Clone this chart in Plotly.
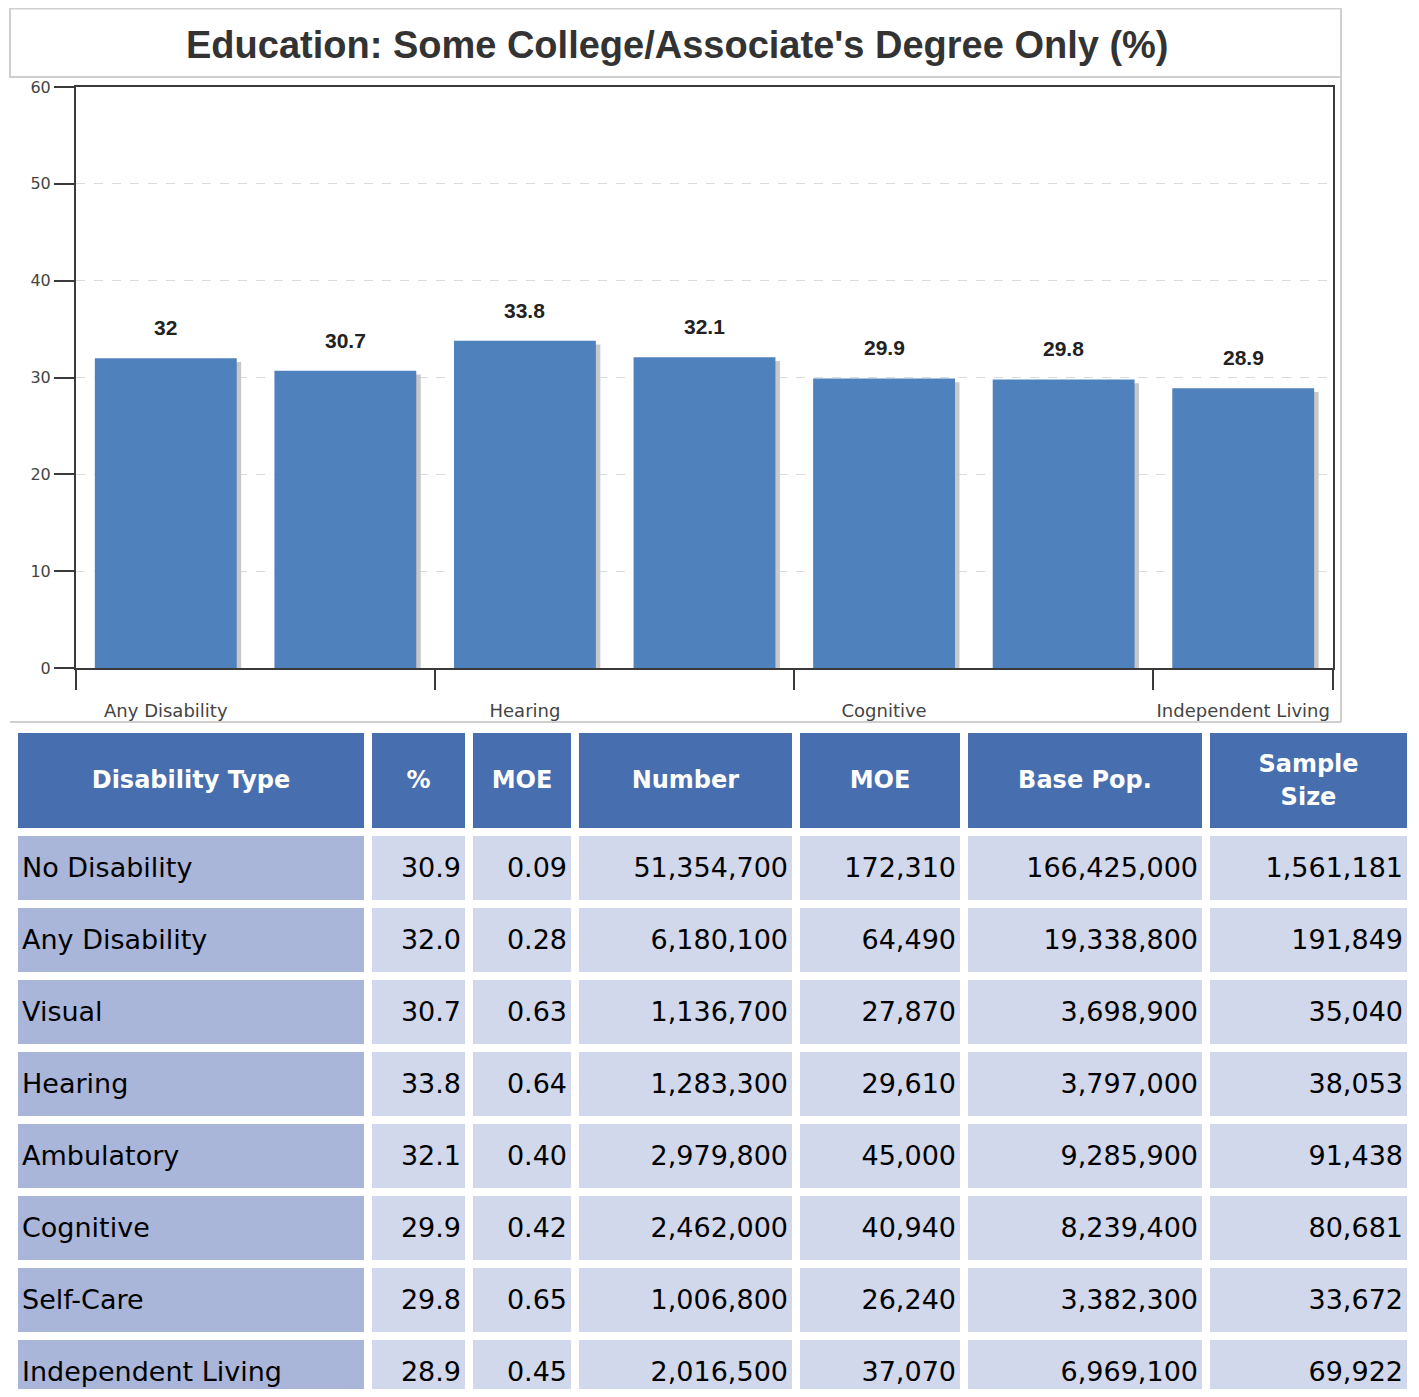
import plotly.graph_objects as go

# ---------------- data ----------------
chart_title = "Education: Some College/Associate's Degree Only (%)"
bar_categories = ["Any Disability", "Visual", "Hearing", "Ambulatory",
                  "Cognitive", "Self-Care", "Independent Living"]
bar_values = [32, 30.7, 33.8, 32.1, 29.9, 29.8, 28.9]
y_ticks = [0, 10, 20, 30, 40, 50, 60]

table_headers = ["Disability Type", "%", "MOE", "Number", "MOE", "Base Pop.", "Sample<br>Size"]
disability_types = ["No Disability", "Any Disability", "Visual", "Hearing",
                    "Ambulatory", "Cognitive", "Self-Care", "Independent Living"]
pct_values = [30.9, 32.0, 30.7, 33.8, 32.1, 29.9, 29.8, 28.9]
pct_moe = [0.09, 0.28, 0.63, 0.64, 0.40, 0.42, 0.65, 0.45]
number_values = [51354700, 6180100, 1136700, 1283300, 2979800, 2462000, 1006800, 2016500]
number_moe = [172310, 64490, 27870, 29610, 45000, 40940, 26240, 37070]
base_pop = [166425000, 19338800, 3698900, 3797000, 9285900, 8239400, 3382300, 6969100]
sample_size = [1561181, 191849, 35040, 38053, 91438, 80681, 33672, 69922]

# ---------------- layout helpers ----------------
W, H = 1403, 1381   # page body has an 8px margin
OFF = 8


def xp(px):
    return (px - OFF) / W


def yp(py):
    return 1 - (py - OFF) / H


BAR_COLOR = "#4f81bd"
SHADOW = "#c8c8c8"
AXIS = "#3a3a3a"

n = len(bar_categories)
xs = list(range(n))

fig = go.Figure()

# bar shadows
fig.add_trace(go.Bar(
    x=[i + 0.025 for i in xs], y=[v - 0.4 for v in bar_values], width=0.79,
    marker=dict(color=SHADOW, line=dict(width=0)), hoverinfo="skip", showlegend=False))
# bars
fig.add_trace(go.Bar(
    x=xs, y=bar_values, width=0.79,
    marker=dict(color=BAR_COLOR, line=dict(width=0)),
    customdata=bar_categories, hovertemplate="%{customdata}: %{y}<extra></extra>",
    showlegend=False))

# value labels
for i, v in zip(xs, bar_values):
    fig.add_annotation(x=i, y=v, xref="x", yref="y", text=f"<b>{v:g}</b>",
                       showarrow=False, yanchor="bottom", yshift=17,
                       font=dict(family="Liberation Sans", size=21, color="#222222"))

# ---------------- table ----------------
col_widths = [354, 101, 106, 221, 168, 242, 205]
first_col = "#a9b6d9"
other_col = "#d1d8eb"
HEADER_FILL = "#476eae"
TABLE_TOP = 729      # reference page px
HEADER_H = 103
ROW_H = 72
GAP = 8
CLEAR = "rgba(0,0,0,0)"
HEADER_LINE = 33     # line pitch in the two-line header

cell_text = [disability_types,
             [f"{v:.1f}" for v in pct_values],
             [f"{v:.2f}" for v in pct_moe],
             [f"{v:,}" for v in number_values],
             [f"{v:,}" for v in number_moe],
             [f"{v:,}" for v in base_pop],
             [f"{v:,}" for v in sample_size]]
aligns = ["left"] + ["right"] * 6

tx0 = xp(14)
tw = 1.0 - tx0
tot = sum(col_widths)
bounds = [tx0]
for w_ in col_widths:
    bounds.append(bounds[-1] + tw * w_ / tot)
bounds[-1] = 1.0

# background (fills only)
fig.add_trace(go.Table(
    domain=dict(x=[tx0, 1.0], y=[0, yp(TABLE_TOP)]),
    columnwidth=col_widths,
    header=dict(values=[""] * len(table_headers), fill_color=HEADER_FILL,
                line=dict(color="white", width=GAP), height=HEADER_H,
                font=dict(size=10)),
    cells=dict(values=[[""] * len(disability_types)] * len(col_widths),
               fill_color=[first_col] + [other_col] * 6,
               line=dict(color="white", width=GAP), height=ROW_H,
               font=dict(size=10)),
))

ROW_SHIFT = 17


def text_table(cols, header_texts, header_shift, with_cells=True):
    top = TABLE_TOP + header_shift
    vals = [cell_text[c] if with_cells else [""] * len(disability_types) for c in cols]
    fig.add_trace(go.Table(
        domain=dict(x=[bounds[cols[0]], bounds[cols[-1] + 1]], y=[0, yp(top)]),
        columnwidth=[col_widths[c] for c in cols],
        header=dict(
            values=[f"<b>{t}</b>" for t in header_texts],
            fill_color=CLEAR, line=dict(color=CLEAR, width=GAP),
            align="center", height=HEADER_H + ROW_SHIFT - header_shift,
            font=dict(family="DejaVu Sans", size=24, color="white")),
        cells=dict(
            values=vals,
            fill_color=CLEAR, line=dict(color=CLEAR, width=GAP),
            align=[aligns[c] for c in cols], height=ROW_H,
            font=dict(family="DejaVu Sans", size=27, color="black")),
    ))


single_cols = [c for c, h in enumerate(table_headers) if "<br>" not in h]
multi_cols = [c for c, h in enumerate(table_headers) if "<br>" in h]
text_table(single_cols, [table_headers[c] for c in single_cols], 29)
for c in multi_cols:
    lines = table_headers[c].split("<br>")
    first_shift = 29 - HEADER_LINE * (len(lines) - 1) / 2
    for k, line in enumerate(lines):
        text_table([c], [line], first_shift + k * HEADER_LINE, with_cells=(k == 0))

# title box and chart frame
fig.add_shape(type="rect", xref="paper", yref="paper",
              x0=xp(10), x1=xp(1341), y0=yp(77), y1=yp(8.5),
              line=dict(color="#cfcfcf", width=2), fillcolor="white", layer="below")
fig.add_shape(type="line", xref="paper", yref="paper",
              x0=xp(1341), x1=xp(1341), y0=yp(77), y1=yp(722),
              line=dict(color="#cfcfcf", width=2))
fig.add_shape(type="line", xref="paper", yref="paper",
              x0=xp(10), x1=xp(1341), y0=yp(722), y1=yp(722),
              line=dict(color="#cfcfcf", width=2))
fig.add_annotation(x=xp(677), y=yp(45), xref="paper", yref="paper",
                   text=f"<b>{chart_title}</b>", showarrow=False,
                   xanchor="center", yanchor="middle",
                   font=dict(family="Liberation Sans", size=38, color="#333333"))

fig.update_layout(
    width=W, height=H,
    margin=dict(l=0, r=0, t=0, b=0, autoexpand=False),
    paper_bgcolor="white", plot_bgcolor="white",
    barmode="overlay",
    showlegend=False,
    xaxis=dict(
        domain=[xp(76), xp(1333)],
        range=[-0.5, n - 0.5],
        tickvals=xs[::2], ticktext=bar_categories[::2],
        ticks="", showgrid=False, zeroline=False, automargin=False,
        showline=True, linecolor=AXIS, linewidth=2, mirror=True,
        layer="below traces",
        ticklabelstandoff=25,
        tickfont=dict(family="DejaVu Sans", size=18, color="#444444"),
        minor=dict(tickvals=[-0.5, 1.5, 3.5, 5.5, n - 0.5], ticks="outside",
                   ticklen=20, tickwidth=2, tickcolor=AXIS, showgrid=False),
    ),
    yaxis=dict(
        domain=[yp(668), yp(87)],
        range=[0, 60],
        tickvals=y_ticks, automargin=False,
        ticks="outside", ticklen=20, tickwidth=2, tickcolor=AXIS,
        showline=True, linecolor=AXIS, linewidth=2, mirror=True,
        showgrid=True, gridcolor="#d5dbe1", griddash="dash", gridwidth=1,
        zeroline=False, layer="below traces",
        tickfont=dict(family="DejaVu Sans", size=16, color="#444444"),
    ),
)

fig.write_html("out.html", config={"staticPlot": True})
